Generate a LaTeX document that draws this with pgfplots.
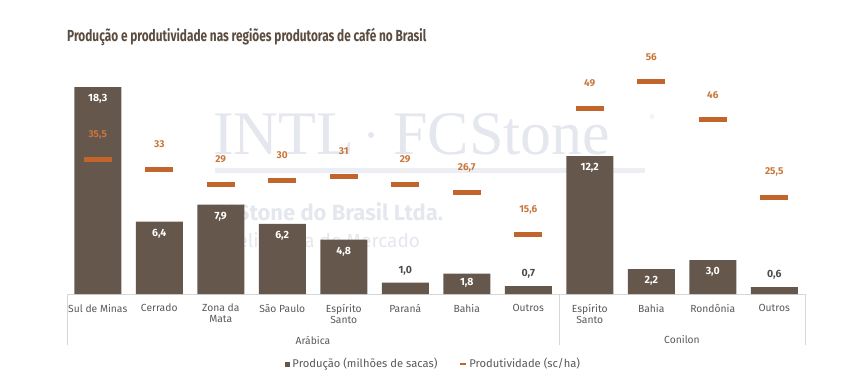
\documentclass[border=0pt]{standalone}
\usepackage{pgfplots}
\pgfplotsset{compat=1.18}
\usepackage{fontspec}
\setmainfont{Fira Sans}
\newfontfamily\titlefont[FakeStretch=0.74]{Fira Sans}
\newfontfamily\wmserif{Liberation Serif}
\definecolor{barc}{RGB}{101,87,75}
\definecolor{orangec}{RGB}{194,101,44}
\definecolor{orangelab}{RGB}{200,118,60}
\definecolor{tickc}{RGB}{89,89,89}
\definecolor{titlec}{RGB}{92,76,63}
\definecolor{wm}{RGB}{229,231,238}
\definecolor{sepc}{RGB}{215,215,215}
\begin{document}
\begin{tikzpicture}[x=1pt,y=1pt]
\path[use as bounding box] (0pt,0pt) rectangle (866pt,383pt);
% title
\node[anchor=west, inner sep=0pt, text=titlec, font=\titlefont\bfseries\fontsize{16}{18}\selectfont] at (67pt,346pt) {Produção e produtividade nas regiões produtoras de café no Brasil};
% watermark
\node[anchor=base west, inner sep=0pt, text=wm, font=\wmserif\fontsize{62}{62}\selectfont] at (213pt,228pt) {INTL};
\fill[wm] (371pt,248pt) circle (3pt);
\node[anchor=base west, inner sep=0pt, text=wm, font=\wmserif\fontsize{62}{62}\selectfont] at (393pt,228pt) {FCStone};
\node[anchor=center, inner sep=0pt, text=wm, font=\fontsize{9}{9}\selectfont] at (652pt,265pt) {®};
\fill[wm!70!white] (215pt,210pt) rectangle (645pt,215pt);
\node[anchor=base west, inner sep=0pt, text=wm, font=\bfseries\fontsize{22}{22}\selectfont] at (214pt,163pt) {FCStone do Brasil Ltda.};
\node[anchor=base west, inner sep=0pt, text=wm, font=\fontsize{19}{19}\selectfont] at (214pt,136pt) {Inteligência de Mercado};
\begin{axis}[
  at={(67pt,89pt)}, anchor=south west,
  scale only axis, width=738pt, height=214pt,
  xmin=-0.5, xmax=11.5, ymin=0, ymax=18.92,
  axis y line=none, axis x line*=bottom,
  x axis line style={draw=sepc, line width=0.6pt, -},
  clip=false,
  xtick={0,...,11},
  xticklabels={Sul de Minas, Cerrado, Zona da\\Mata, São Paulo, Espírito\\Santo, Paraná, Bahia, Outros, Espírito\\Santo, Bahia, Rondônia, Outros},
  major tick length=0pt,
  xticklabel style={align=center, anchor=north, inner sep=0pt, yshift=-10pt, text=tickc, font=\fontsize{10.3}{10.8}\selectfont},
  /pgf/number format/assume math mode=true,
  legend style={at={(axis description cs:0.497,0)}, yshift=-70pt, anchor=center, draw=none, fill=none, font=\fontsize{11.2}{13}\selectfont, text=tickc, legend columns=2, /tikz/every even column/.append style={column sep=20pt}, inner sep=0pt},
  legend image post style={},
]
\addplot[ybar, bar width=47pt, bar shift=0pt, fill=barc, draw=none,
  legend image code/.code={\fill[barc] (0pt,-2.5pt) rectangle (5pt,2.5pt);}]
  coordinates {(0,18.3) (1,6.4) (2,7.9) (3,6.2) (4,4.8) (5,1.0) (6,1.8) (7,0.7) (8,12.2) (9,2.2) (10,3.0) (11,0.6)};
\addlegendentry{Produção (milhões de sacas)}
\addlegendimage{legend image code/.code={\draw[orangec, line width=1.8pt] (0pt,0pt) -- (6pt,0pt);}}
\addlegendentry{Produtividade (sc/ha)}
% inside labels
\addplot[forget plot, only marks, mark=none, nodes near coords, point meta=y,
  nodes near coords style={text=white, anchor=center, yshift=-12pt, font=\bfseries\fontsize{10.5}{12}\selectfont, /pgf/number format/.cd, fixed, fixed zerofill, precision=1, use comma}]
  coordinates {(0,18.3) (1,6.4) (2,7.9) (3,6.2) (4,4.8) (8,12.2) (9,2.2) (10,3.0)};
\addplot[forget plot, only marks, mark=none, nodes near coords, point meta=y,
  nodes near coords style={text=white, anchor=center, yshift=-9pt, font=\bfseries\fontsize{10.5}{12}\selectfont, /pgf/number format/.cd, fixed, fixed zerofill, precision=1, use comma}]
  coordinates {(6,1.8)};
% outside labels
\addplot[forget plot, only marks, mark=none, nodes near coords, point meta=y,
  nodes near coords style={text=tickc!85!black, anchor=center, yshift=12pt, font=\bfseries\fontsize{10.5}{12}\selectfont, /pgf/number format/.cd, fixed, fixed zerofill, precision=1, use comma}]
  coordinates {(5,1.0) (7,0.7) (11,0.6)};
% separators and group labels
\draw[sepc, line width=0.6pt] (axis cs:-0.5,0) -- ++(0pt,-51pt);
\draw[sepc, line width=0.6pt] (axis cs:7.5,0) -- ++(0pt,-51pt);
\draw[sepc, line width=0.6pt] (axis cs:11.5,0) -- ++(0pt,-51pt);
\node[text=tickc, font=\fontsize{10.3}{12}\selectfont, anchor=center] at ([yshift=-46pt]axis cs:3.5,0) {Arábica};
\node[text=tickc, font=\fontsize{10.3}{12}\selectfont, anchor=center] at ([yshift=-46pt]axis cs:9.5,0) {Conilon};
\end{axis}
\begin{axis}[
  at={(67pt,89pt)}, anchor=south west,
  scale only axis, width=738pt, height=214pt,
  xmin=-0.5, xmax=11.5, ymin=0, ymax=56.5,
  hide axis, clip=false,
  /pgf/number format/assume math mode=true,
]
\addplot[only marks, mark=-, mark size=14pt, mark options={line width=5pt, draw=orangec},
  nodes near coords, point meta=y,
  nodes near coords style={text=orangelab, anchor=center, yshift=25pt, font=\bfseries\fontsize{10}{12}\selectfont, /pgf/number format/.cd, fixed, precision=1, use comma}]
  coordinates {(0,35.5) (1,33) (2,29) (3,30) (4,31) (5,29) (6,26.7) (7,15.6) (8,49) (9,56) (10,46) (11,25.5)};
\end{axis}
\end{tikzpicture}
\end{document}
